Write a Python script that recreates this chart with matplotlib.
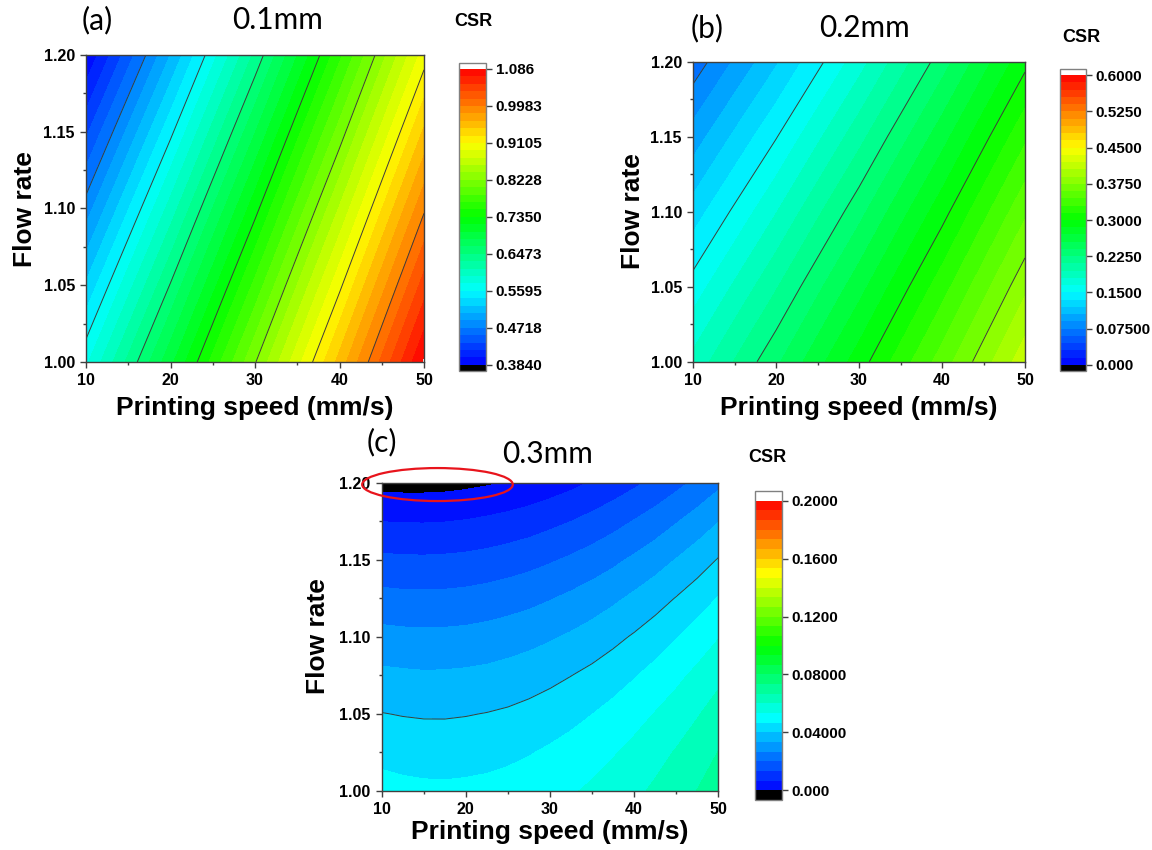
import numpy as np
import matplotlib
matplotlib.use("Agg")
import matplotlib.pyplot as plt
from matplotlib.colors import LinearSegmentedColormap
from matplotlib.patches import Ellipse

# ---------------- data ----------------
# grid axes
speed_ab = [10, 20, 30, 40, 50]
flow_ab = [1.00, 1.05, 1.10, 1.15, 1.20]
speed_c = [10, 12.5, 15, 17.5, 20, 22.5, 25, 27.5, 30, 32.5, 35, 37.5, 40, 42.5, 45, 47.5, 50]
flow_c = [1.000, 1.025, 1.050, 1.075, 1.100, 1.125, 1.150, 1.175, 1.200]

# CSR values (rows = flow rate, columns = printing speed)
csr_a = [
    [0.5734, 0.6951, 0.8213, 0.9522, 1.0876],
    [0.5270, 0.6487, 0.7751, 0.9061, 1.0416],
    [0.4801, 0.6020, 0.7285, 0.8596, 0.9953],
    [0.4329, 0.5549, 0.6815, 0.8127, 0.9486],
    [0.3852, 0.5074, 0.6341, 0.7655, 0.9014],
]
csr_b = [
    [0.1847, 0.2369, 0.2926, 0.3519, 0.4147],
    [0.1563, 0.2085, 0.2642, 0.3235, 0.3863],
    [0.1270, 0.1792, 0.2349, 0.2942, 0.3570],
    [0.0968, 0.1490, 0.2047, 0.2640, 0.3268],
    [0.0657, 0.1179, 0.1736, 0.2329, 0.2957],
]
csr_c = [
    [0.0489, 0.0483, 0.0479, 0.0478, 0.0480, 0.0484, 0.0491, 0.0500, 0.0512, 0.0527, 0.0544, 0.0563, 0.0586, 0.0611, 0.0638, 0.0668, 0.0701],
    [0.0449, 0.0443, 0.0440, 0.0439, 0.0442, 0.0446, 0.0453, 0.0463, 0.0476, 0.0491, 0.0508, 0.0528, 0.0551, 0.0577, 0.0605, 0.0635, 0.0668],
    [0.0402, 0.0397, 0.0394, 0.0394, 0.0397, 0.0402, 0.0409, 0.0420, 0.0433, 0.0448, 0.0466, 0.0487, 0.0510, 0.0536, 0.0564, 0.0595, 0.0629],
    [0.0348, 0.0344, 0.0341, 0.0342, 0.0345, 0.0350, 0.0359, 0.0369, 0.0383, 0.0399, 0.0417, 0.0438, 0.0462, 0.0488, 0.0517, 0.0549, 0.0583],
    [0.0288, 0.0284, 0.0282, 0.0283, 0.0286, 0.0292, 0.0301, 0.0312, 0.0326, 0.0342, 0.0361, 0.0383, 0.0407, 0.0434, 0.0463, 0.0495, 0.0530],
    [0.0221, 0.0217, 0.0216, 0.0217, 0.0221, 0.0228, 0.0237, 0.0248, 0.0263, 0.0280, 0.0299, 0.0321, 0.0346, 0.0373, 0.0403, 0.0435, 0.0470],
    [0.0147, 0.0144, 0.0143, 0.0145, 0.0149, 0.0156, 0.0166, 0.0178, 0.0193, 0.0210, 0.0230, 0.0252, 0.0278, 0.0305, 0.0336, 0.0368, 0.0404],
    [0.0066, 0.0063, 0.0063, 0.0065, 0.0070, 0.0078, 0.0088, 0.0100, 0.0116, 0.0133, 0.0154, 0.0177, 0.0203, 0.0231, 0.0262, 0.0295, 0.0331],
    [-0.0021, -0.0023, -0.0023, -0.0021, -0.0015, -0.0007, 0.0003, 0.0016, 0.0032, 0.0050, 0.0071, 0.0095, 0.0121, 0.0149, 0.0181, 0.0215, 0.0251],
]

# colour-scale ranges and tick labels
range_a = [0.384, 1.086]
range_b = [0.0, 0.6]
range_c = [0.0, 0.2]
cbar_a_ticks = ["0.3840", "0.4718", "0.5595", "0.6473", "0.7350", "0.8228", "0.9105", "0.9983", "1.086"]
cbar_b_ticks = ["0.000", "0.07500", "0.1500", "0.2250", "0.3000", "0.3750", "0.4500", "0.5250", "0.6000"]
cbar_c_ticks = ["0.000", "0.04000", "0.08000", "0.1200", "0.1600", "0.2000"]
x_ticks = [10, 20, 30, 40, 50]
x_minor = [15, 25, 35, 45]
y_ticks = [1.00, 1.05, 1.10, 1.15, 1.20]
y_minor = [1.025, 1.075, 1.125, 1.175]
panel_tags = ["(a)", "(b)", "(c)"]
panel_titles = ["0.1mm", "0.2mm", "0.3mm"]

# ---------------- styling ----------------
plt.rcParams['font.family'] = ['Liberation Sans', 'DejaVu Sans']
plt.rcParams['font.weight'] = 'bold'

W, H = 1152, 850
fig = plt.figure(figsize=(W / 100, H / 100), dpi=100)


def box(l, t, r, b):
    return [l / W, 1 - b / H, (r - l) / W, (b - t) / H]


cmap = LinearSegmentedColormap.from_list(
    "origin_rainbow", ["#0000ff", "#00ffff", "#00ff00", "#ffff00", "#ff0000"])
cmap.set_under("black")
cmap.set_over("white")

panels = [
    dict(x=speed_ab, y=flow_ab, z=csr_a, rng=range_a, n=40, step=5,
         ticks=cbar_a_ticks, ax=box(86, 55, 424, 362), cax=box(459, 62.7, 486, 371), ef=0.0213,
         tagxy=(82, 20), titlexy=(278, 20), csrxy=(473, 22),
         ylab=(25, 209), xlab=(255, 408)),
    dict(x=speed_ab, y=flow_ab, z=csr_b, rng=range_b, n=40, step=5,
         ticks=cbar_b_ticks, ax=box(693, 61.7, 1025, 361.7), cax=box(1059.5, 69, 1086, 371), ef=0.0207,
         tagxy=(691, 28), titlexy=(865, 28), csrxy=(1081, 38),
         ylab=(633, 211), xlab=(859, 408)),
    dict(x=speed_c, y=flow_c, z=csr_c, rng=range_c, n=30, step=6,
         ticks=cbar_c_ticks, ax=box(381.7, 482.7, 718.3, 791), cax=box(755, 491, 781.7, 800), ef=0.034,
         tagxy=(367, 442), titlexy=(548, 454), csrxy=(767, 458),
         ylab=(318, 636), xlab=(550, 832)),
]

spine_col = "#404040"
axes = []
for i, p in enumerate(panels):
    ax = fig.add_axes(p["ax"])
    lo, hi = p["rng"]
    levels = np.linspace(lo, hi, p["n"] + 1)
    cf = ax.contourf(p["x"], p["y"], p["z"], levels=levels, cmap=cmap, extend="both")
    ax.contour(p["x"], p["y"], p["z"], levels=levels[p["step"]:-1:p["step"]],
               colors="#3c3c3c", linewidths=0.7)
    ax.set_xlim(10, 50)
    ax.set_ylim(1.0, 1.2)
    ax.set_xticks(x_ticks)
    ax.set_xticks(x_minor, minor=True)
    ax.set_yticks(y_ticks)
    ax.set_yticks(y_minor, minor=True)
    ax.set_xticklabels([str(v) for v in x_ticks])
    ax.set_yticklabels([f"{v:.2f}" for v in y_ticks])
    ax.tick_params(which="major", direction="out", length=4, width=1, labelsize=11.5,
                   pad=4, color=spine_col)
    ax.tick_params(which="minor", direction="out", length=2.5, width=1, color=spine_col)
    for s in ax.spines.values():
        s.set_color(spine_col)
        s.set_linewidth(1)

    cax = fig.add_axes(p["cax"])
    cb = fig.colorbar(cf, cax=cax, extend="both", extendrect=True, extendfrac=p["ef"],
                      ticks=np.linspace(lo, hi, len(p["ticks"])))
    cb.ax.set_yticklabels(p["ticks"])
    cb.ax.tick_params(direction="out", length=4, width=1, labelsize=11, pad=3, color=spine_col)
    cb.outline.set_edgecolor("#808080")
    cb.outline.set_linewidth(1)

    fig.text(p["tagxy"][0] / W, 1 - p["tagxy"][1] / H, panel_tags[i], fontsize=21.5,
             weight="normal", family=["Lato", "DejaVu Sans"], ha="left", va="center")
    fig.text(p["titlexy"][0] / W, 1 - p["titlexy"][1] / H, panel_titles[i], fontsize=21.5,
             weight="normal", family=["Lato", "DejaVu Sans"], ha="center", va="center")
    fig.text(p["csrxy"][0] / W, 1 - p["csrxy"][1] / H, "CSR", fontsize=13, weight="bold",
             ha="center", va="center")
    fig.text(p["ylab"][0] / W, 1 - p["ylab"][1] / H, "Flow rate", fontsize=19, weight="bold",
             rotation=90, ha="center", va="center")
    fig.text(p["xlab"][0] / W, 1 - p["xlab"][1] / H, "Printing speed (mm/s)", fontsize=19,
             weight="bold", ha="center", va="center")
    axes.append(ax)

# red ellipse highlighting the negative (black) region of panel (c)
axes[2].add_patch(Ellipse((16.63, 1.1988), 17.9, 0.0214, fill=False, edgecolor="#e8141c",
                          linewidth=1.6, clip_on=False, zorder=10))

fig.savefig("out.png", dpi=100)
